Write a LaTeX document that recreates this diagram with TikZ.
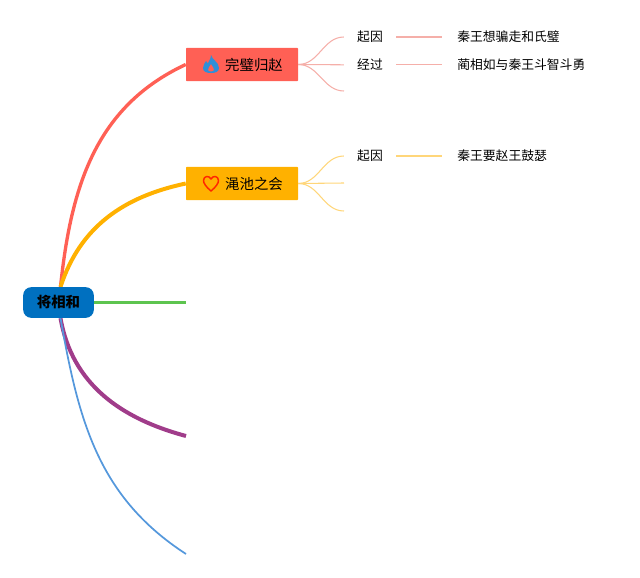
\documentclass[tikz,border=0pt]{standalone}
\usepackage{fontspec}
\setmainfont{Noto Sans CJK SC}
\usetikzlibrary{positioning,backgrounds}
\definecolor{redtopic}{HTML}{FF6055}
\definecolor{orangetopic}{HTML}{FFB100}
\definecolor{rootblue}{HTML}{0070C0}
\definecolor{greenline}{HTML}{5DC44F}
\definecolor{purpleline}{HTML}{A03C8A}
\definecolor{blueline}{HTML}{5598DC}
\definecolor{flameblue}{HTML}{2F8FD8}
\definecolor{redleaf}{HTML}{F5AFA9}
\definecolor{orangeleaf}{HTML}{FFD67A}
\tikzset{
  topicbox/.style = {rectangle, rounded corners=0.6pt, minimum width=84pt, minimum height=25pt, inner sep=0pt, font=\fontsize{10.8}{12}\selectfont},
  leaftext/.style = {inner xsep=9.75pt, inner ysep=1pt, font=\fontsize{9.6}{11}\selectfont},
  detailtext/.style = {inner xsep=11.25pt, inner ysep=1pt, font=\fontsize{9.6}{11}\selectfont, anchor=west}
}
\begin{document}
\begin{tikzpicture}[x=0.75pt, y=-0.75pt]
    \useasboundingbox (0,0) rectangle (640,578);
    \node (root) at (58.5,302.5) [fill=rootblue, rounded corners=6pt, minimum width=53pt, minimum height=23pt, inner sep=0pt, font=\fontsize{10.8}{12}\selectfont\bfseries] {\raisebox{-0.7pt}{将相和}};
    \node (wanbi) at (242,64.5) [topicbox, fill=redtopic] {\hspace*{18pt}\raisebox{-0.7pt}{完璧归赵}};
    \node (mianchi) at (242,183.5) [topicbox, fill=orangetopic] {\hspace*{18pt}\raisebox{-0.7pt}{渑池之会}};
    \coordinate (greenend) at (186,302.5);
    \coordinate (purpleend) at (186,436);
    \coordinate (blueend) at (186,554);
    \coordinate (wanbiend) at (344,91);
    \coordinate (mianchimid) at (344,183);
    \coordinate (mianchiend) at (344,211);

    \node (qiyina) at (370,37) [leaftext] {起因};
    \node (jingguo) [below = 9.7pt of qiyina, leaftext] {经过};
    \node (qiyinb) at (370,156) [leaftext] {起因};
    \node (detaila) [right = 34.5pt of qiyina.east, detailtext] {秦王想骗走和氏璧};
    \node (detailb) [right = 34.5pt of jingguo.east, detailtext] {蔺相如与秦王斗智斗勇};
    \node (detailc) [right = 34.5pt of qiyinb.east, detailtext] {秦王要赵王鼓瑟};

    \begin{scope}[on background layer]
    \path[draw=redtopic, line width=2.5pt] ([xshift=1.5pt]root.north) to[out=84,in=205] (wanbi.west);
    \path[draw=orangetopic, line width=3pt] ([xshift=1.5pt]root.north) to[out=72,in=192] (mianchi.west);
    \path[draw=greenline, line width=1.7pt] (root.east) -- (greenend);
    \path[draw=purpleline, line width=3pt] ([xshift=1.5pt]root.south) to[out=-80,in=165] (purpleend);
    \path[draw=blueline, line width=1.3pt] ([xshift=1.5pt]root.south) to[out=-80,in=147] (blueend);
    \end{scope}

    \path[draw=redleaf, line width=0.8pt] (wanbi.east) to[out=0,in=180] (qiyina.west);
    \path[draw=redleaf, line width=0.8pt] (wanbi.east) -- (jingguo.west);
    \path[draw=redleaf, line width=0.8pt] (wanbi.east) to[out=0,in=180] (wanbiend);
    \path[draw=redleaf, line width=1pt] (qiyina) -- (detaila);
    \path[draw=redleaf, line width=1pt] (jingguo) -- (detailb);

    \path[draw=orangeleaf, line width=0.8pt] (mianchi.east) to[out=0,in=180] (qiyinb.west);
    \path[draw=orangeleaf, line width=0.8pt] (mianchi.east) -- (mianchimid);
    \path[draw=orangeleaf, line width=0.8pt] (mianchi.east) to[out=0,in=180] (mianchiend);
    \path[draw=orangeleaf, line width=1pt] (qiyinb) -- (detailc);

    % icons
    \fill[flameblue, even odd rule] (211,55) .. controls (212,60) and (219,62) .. (219,68) .. controls (219,72) and (215,73) .. (211,73) .. controls (207,73) and (203,72) .. (203,68) .. controls (203,65) and (205,63) .. (206,61) .. controls (207,63) and (208,63) .. (208,63) .. controls (209,60) and (211,59) .. (211,55) -- cycle
      (211,64) .. controls (209,67) and (208,68) .. (208,70) .. controls (208,72) and (214,72) .. (214,70) .. controls (214,68) and (213,67) .. (211,64) -- cycle;
    \draw[red!70!orange, line width=1.1pt, line join=round] (211,191) .. controls (206,187) and (203.5,183) .. (203.5,180.5) .. controls (203.5,176) and (209,175) .. (211,179) .. controls (213,175) and (218.5,176) .. (218.5,180.5) .. controls (218.5,183) and (216,187) .. (211,191) -- cycle;
  \end{tikzpicture}
\end{document}
